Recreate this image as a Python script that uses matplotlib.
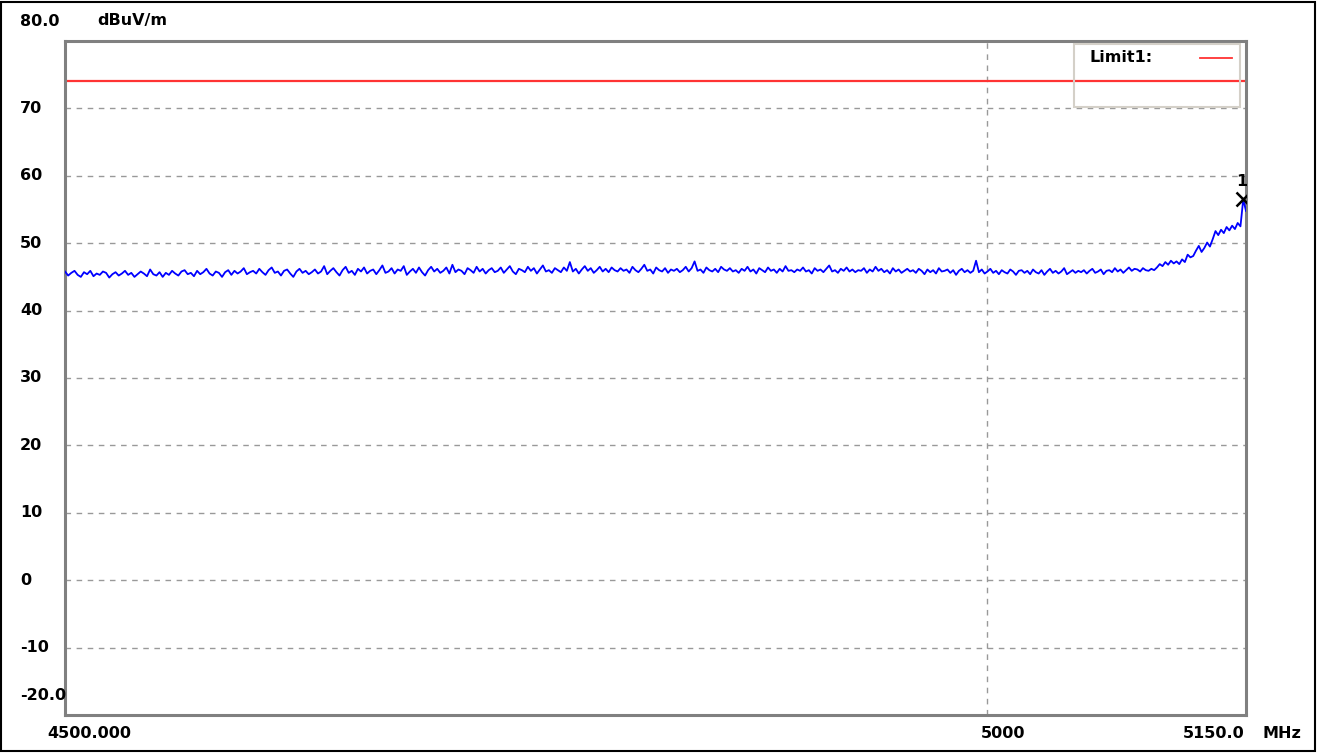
import numpy as np
import matplotlib.pyplot as plt
from matplotlib.patches import Rectangle
from matplotlib.lines import Line2D
from matplotlib.ticker import NullLocator, NullFormatter

# Sweep: peak-hold level, dBuV/m (400 points from 4500 to 5150 MHz)
level = [
    45.8, 45.2, 45.6, 45.9, 45.3, 45.0, 45.7, 45.4, 45.9, 45.1, 45.5, 45.3, 45.8, 45.6, 44.9, 45.4, 45.7, 45.2, 45.5, 45.9,
    45.3, 45.6, 45.0, 45.4, 45.8, 45.5, 45.1, 46.1, 45.4, 45.2, 45.7, 45.0, 45.6, 45.3, 45.9, 45.5, 45.2, 45.8, 46.0, 45.4,
    45.6, 45.1, 45.9, 45.4, 45.7, 46.2, 45.5, 45.2, 45.8, 45.6, 45.0, 45.7, 46.0, 45.3, 45.9, 45.5, 45.8, 46.3, 45.4, 45.7,
    45.9, 45.5, 46.2, 45.7, 45.3, 46.0, 46.4, 45.6, 45.8, 45.2, 45.9, 46.1, 45.5, 45.0, 45.8, 46.2, 45.6, 45.9, 45.4, 45.7,
    46.1, 45.5, 45.8, 46.6, 45.4, 45.9, 46.3, 45.7, 45.2, 46.0, 46.5, 45.6, 45.9, 45.3, 46.2, 45.8, 46.4, 45.5, 45.9, 46.1,
    45.4, 46.0, 46.7, 45.6, 45.8, 46.3, 45.5, 46.1, 45.9, 46.6, 45.3, 45.8, 46.2, 45.6, 46.4, 45.7, 45.2, 46.0, 46.5, 45.8,
    46.2, 45.6, 45.9, 46.4, 45.5, 46.8, 45.7, 46.1, 45.9, 45.4, 46.3, 46.0, 45.6, 46.5, 45.8, 46.2, 45.5, 46.0, 46.3, 45.7,
    45.9, 46.4, 45.6, 46.1, 46.6, 45.8, 45.4, 46.2, 46.0, 45.7, 46.5, 45.9, 46.3, 45.5, 46.1, 46.7, 45.8, 46.0, 45.6, 46.3,
    46.0, 45.7, 46.4, 45.9, 47.2, 45.8, 46.2, 45.5, 46.1, 46.6, 45.9, 46.3, 45.6, 46.0, 46.5, 45.8, 46.2, 45.7, 46.4, 46.0,
    45.8, 46.3, 45.9, 46.1, 45.6, 46.5, 46.0, 45.7, 46.2, 46.8, 45.9, 46.1, 45.5, 46.4, 46.0, 45.8, 46.3, 45.6, 46.1, 45.9,
    46.2, 45.7, 46.0, 46.5, 45.8, 46.3, 47.3, 45.9, 46.1, 45.6, 46.4, 46.0, 45.8, 46.2, 45.7, 46.5, 46.1, 45.9, 46.3, 45.8,
    46.0, 45.6, 46.2, 45.9, 46.5, 45.8, 46.1, 45.5, 46.3, 46.0, 45.7, 46.4, 45.9, 46.1, 45.6, 46.2, 45.8, 46.6, 45.9, 46.0,
    45.7, 46.1, 45.9, 46.4, 45.8, 46.0, 45.5, 46.3, 45.9, 46.1, 45.7, 46.2, 46.7, 45.8, 46.0, 45.6, 46.2, 45.9, 46.4, 45.8,
    46.1, 45.7, 46.0, 45.9, 46.3, 45.6, 46.1, 45.8, 46.5, 45.9, 46.2, 45.7, 46.0, 45.5, 46.3, 45.8, 46.1, 45.6, 45.9, 46.2,
    45.8, 46.0, 45.6, 46.2, 45.9, 45.4, 46.1, 45.7, 46.0, 45.5, 46.3, 45.8, 45.9, 46.1, 45.6, 46.0, 45.3, 45.9, 46.2, 45.7,
    46.0, 45.6, 45.9, 47.4, 45.7, 46.1, 45.5, 45.8, 46.2, 45.6, 45.9, 45.4, 46.0, 45.7, 45.5, 46.1, 45.8, 45.3, 45.9, 46.0,
    45.6, 45.9, 45.4, 46.1, 45.7, 45.5, 46.0, 45.3, 45.8, 46.2, 45.6, 45.9, 45.5, 45.8, 46.3, 45.4, 45.7, 46.0, 45.6, 45.9,
    45.7, 46.0, 45.5, 45.9, 46.2, 45.6, 45.8, 46.1, 45.4, 45.9, 46.0, 45.7, 46.3, 45.8, 46.1, 45.6, 46.0, 46.4, 45.9, 46.2,
    46.1, 45.8, 46.3, 46.0, 45.9, 46.2, 46.0, 46.4, 46.9, 46.6, 47.2, 46.8, 47.4, 47.0, 47.3, 46.9, 47.6, 47.2, 48.3, 47.9,
    48.1, 48.9, 49.6, 48.7, 49.3, 50.1, 49.5, 50.6, 51.8, 51.2, 52.0, 51.5, 52.4, 51.9, 52.6, 52.1, 53.0, 52.5, 56.5, 54.8,
]
f_start, f_stop = 4500.0, 5150.0
limit1 = 74.0

y_ticks = [-20, -10, 0, 10, 20, 30, 40, 50, 60, 70, 80]
y_labels = ['-20.0', '-10', '0', '10', '20', '30', '40', '50', '60', '70', '80.0']

freqs = np.linspace(f_start, f_stop, len(level))
font = dict(family='DejaVu Sans', weight='bold', size=11.5)

fig = plt.figure(figsize=(13.18, 7.53), dpi=100)
fig.patches.append(Rectangle((0.001, 0.002), 0.997, 0.995, transform=fig.transFigure,
                             fill=False, edgecolor='black', linewidth=1.5))
ax = fig.add_axes([65 / 1318, 1 - 715 / 753, 1181 / 1318, 674 / 753])

ax.set_xscale('log')
ax.set_xlim(f_start, f_stop)
ax.set_ylim(-20, 80)

# grid lines
for v in y_ticks[1:-1]:
    ax.axhline(v, color='#999999', linewidth=1.0, linestyle=(0, (4, 4)), zorder=1)
ax.axvline(5000, color='#999999', linewidth=1.0, linestyle=(0, (4, 4)), zorder=1)

# limit and trace
ax.axhline(limit1, color='#ff3333', linewidth=1.6, zorder=2)
ax.plot(freqs, level, color='#0000ff', linewidth=1.3, zorder=3)

# peak marker
ip = int(np.argmax(level))
ax.plot(freqs[ip], level[ip], 'x', color='black', markersize=10, markeredgewidth=1.8, zorder=4)
ax.annotate('1', (freqs[ip], level[ip]), xytext=(-1, 10), textcoords='offset pixels',
            ha='center', va='bottom', **font)

# axes frame
for sp in ax.spines.values():
    sp.set_color('#808080')
    sp.set_linewidth(2.2)

ax.xaxis.set_major_locator(NullLocator())
ax.xaxis.set_minor_locator(NullLocator())
ax.xaxis.set_minor_formatter(NullFormatter())
ax.set_yticks([])

# y labels, left aligned
ytr = ax.get_yaxis_transform()
for v, lab in zip(y_ticks, y_labels):
    dy = 20 if v in (80, -20) else 0
    ax.annotate(lab, (0, v), xycoords=ytr, xytext=(-45, dy), textcoords='offset pixels',
                ha='left', va='center', annotation_clip=False, **font)
ax.annotate('dBuV/m', (0, 80), xycoords=ytr, xytext=(32, 20), textcoords='offset pixels',
            ha='left', va='center', annotation_clip=False, **font)

# x labels
xtr = ax.get_xaxis_transform()
ax.annotate('4500.000', (f_start, 0), xycoords=xtr, xytext=(-18, -18), textcoords='offset pixels',
            ha='left', va='center', annotation_clip=False, **font)
ax.annotate('5000', (5000, 0), xycoords=xtr, xytext=(-6, -18), textcoords='offset pixels',
            ha='left', va='center', annotation_clip=False, **font)
ax.annotate('5150.0', (f_stop, 0), xycoords=xtr, xytext=(-1, -18), textcoords='offset pixels',
            ha='right', va='center', annotation_clip=False, **font)
ax.annotate('MHz', (f_stop, 0), xycoords=xtr, xytext=(16, -18), textcoords='offset pixels',
            ha='left', va='center', annotation_clip=False, **font)

# limit legend box
ax.add_patch(Rectangle((0.854, 0.902), 0.141, 0.093, transform=ax.transAxes,
                       fill=False, edgecolor='#d4d0c8', linewidth=1.5, zorder=5))
ax.text(0.8675, 0.975, 'Limit1:', transform=ax.transAxes, ha='left', va='center', **font)
ax.add_line(Line2D([0.961, 0.988], [0.975, 0.975], transform=ax.transAxes,
                   color='#ff3333', linewidth=1.3, zorder=5))

fig.savefig('out.png', dpi=100)
